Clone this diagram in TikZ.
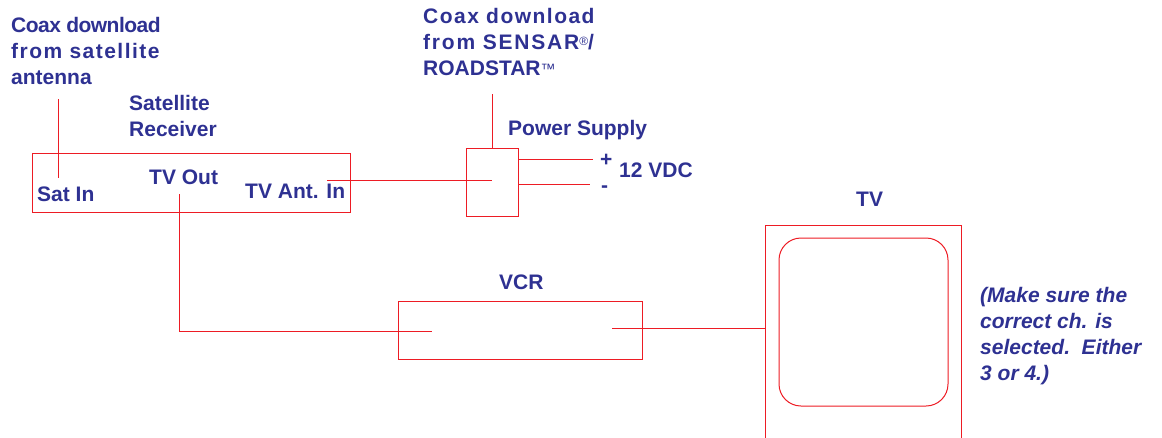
\documentclass[tikz,border=0pt]{standalone}
\usepackage{fontspec}
\setmainfont{Liberation Sans}
\newfontfamily\tightfont[LetterSpace=-2.5]{Liberation Sans}
\newfontfamily\widefont[LetterSpace=7]{Liberation Sans}
\newfontfamily\widerfont[LetterSpace=8.5]{Liberation Sans}
\definecolor{labelblue}{HTML}{2E3192}
\definecolor{wirered}{HTML}{ED1C24}
\begin{document}
\begin{tikzpicture}[
      x=1pt,
      y=-1pt,
      inner sep=0pt,
      label/.style={text=labelblue,font=\fontsize{21}{26}\selectfont\bfseries,align=left,anchor=base west},
      note/.style={label,font=\fontsize{21}{26}\selectfont\bfseries\itshape},
      unit/.style={draw=wirered,line width=1pt,minimum width=#1},
      wire/.style={draw=wirered,line width=1pt}
    ]
    \useasboundingbox (0,0) rectangle (1162,437);
    \node (receiver) [unit=318pt,minimum height=59pt] at (191,182.5) {};
    \node (supply) [unit=52pt,minimum height=68pt] at (492,182) {};
    \node (vcr) [unit=244pt,minimum height=58pt] at (520,330) {};
    \node (tv) [unit=195.5pt,minimum height=225pt] at (863.25,337.5) {};
    \node (screen) [unit=169pt,minimum height=168pt,rounded corners=22pt] at (863.5,322) {};
    \node (coaxsat) [label] at (11,84) {{\tightfont Coax download}\\{\widefont from satellite}\\antenna};
    \node (title) [label] at (129,136) {Satellite\\Receiver};
    \node (satin) [label] at (37,201) {Sat In};
    \node (tvout) [label] at (149,184) {TV Out};
    \node (antin) [label] at (245,198.5) {TV Ant. In};
    \node (coaxsensar) [label] at (423,75) {{\widefont Coax download}\\{\widerfont from SENSAR}\raisebox{4pt}{\fontsize{12}{12}\selectfont\mdseries®}/\\ROADSTAR\raisebox{1pt}{\fontsize{15}{15}\selectfont\mdseries™}};
    \node (powerlabel) [label] at (508,135) {Power Supply};
    \node (plus) [label] at (600,166) {+};
    \node (minus) [label] at (601,192) {-};
    \node (volts) [label] at (619,177) {12 VDC};
    \node (vcrlabel) [label] at (499,289) {VCR};
    \node (tvlabel) [label] at (856,206) {TV};
    \node (notelabel) [note] at (980,380) {(Make sure the\\correct ch. is\\selected.\ \ Either\\3 or 4.)};
    \coordinate (satend) at (58.5,99);
    \coordinate (satin1) at (58.5,178);
    \coordinate (out1) at (179,194);
    \coordinate (vcrin) at (432,331);
    \coordinate (ant1) at (327,180);
    \coordinate (ant2) at (492,180);
    \coordinate (coaxend) at (492.5,94);
    \coordinate (plus1) at (593,159);
    \coordinate (minus1) at (590,184);
    \coordinate (vcrout) at (612,328);
    \draw [wire] (satend) -- (satin1);
    \draw [wire] (out1) |- (vcrin);
    \draw [wire] (ant1) -- (ant2);
    \draw [wire] (coaxend) -- (coaxend |- supply.north);
    \draw [wire] (supply.east |- plus1) -- (plus1);
    \draw [wire] (supply.east |- minus1) -- (minus1);
    \draw [wire] (vcrout) -- (tv.west |- vcrout);
  \end{tikzpicture}
\end{document}
